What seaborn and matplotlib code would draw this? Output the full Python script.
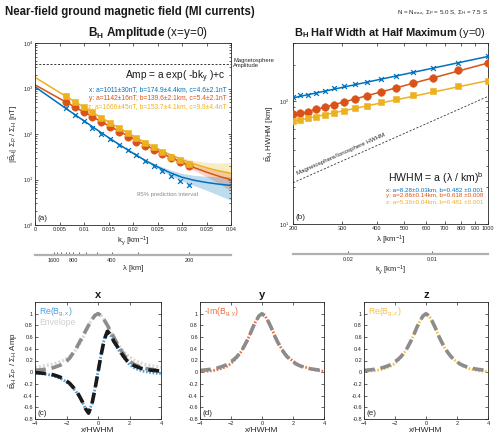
import numpy as np
import matplotlib
matplotlib.use('Agg')
import matplotlib.pyplot as plt
import matplotlib.ticker as mticker
import seaborn as sns

# ---- panel (a): amplitude at x=y=0 vs k_y
k_pts = [0.0063, 0.0081, 0.0099, 0.0117, 0.0135, 0.0153, 0.0171, 0.0189,
         0.0207, 0.0224, 0.0242, 0.0260, 0.0278, 0.0296, 0.0314]
amp_x = [379, 257, 193, 138, 100, 77.6, 58.3, 44.5, 34.0, 25.9, 19.8, 15.6, 12.1, 9.1, 7.4]
amp_y = [505, 392, 305, 232, 180, 140, 111, 87.4, 67.9, 54.5, 43.8, 36.3, 29.7, 24.3, 20.1]
amp_z = [670, 505, 395, 298, 228, 176, 135, 104, 82, 64, 51, 40, 32, 26.5, 22]

k_fit = [0, 0.0025, 0.005, 0.0075, 0.01, 0.0125, 0.015, 0.0175, 0.02,
         0.0225, 0.025, 0.0275, 0.03, 0.0325, 0.035, 0.0375, 0.04]
fit_x = [1090, 706, 457, 297, 194, 127, 83.7, 55.8, 37.9, 26.2, 19.0, 14.2, 11.2, 9.6, 8.6, 7.9, 7.4]
lo_x = [1060, 690, 447, 290, 189, 124, 81.5, 54, 36.5, 25, 17.5, 12.5, 9.3, 7.3, 5.8, 4.5, 3.5]
hi_x = [1120, 722, 467, 304, 199, 130, 86, 57.5, 39.5, 27.6, 20.8, 16.3, 13.6, 12.3, 11.8, 11.6, 11.5]
fit_y = [1205, 852, 602, 427, 302, 215, 153, 110, 79, 57.2, 42, 31.2, 23.6, 18.2, 14.5, 11.8, 9.9]
lo_y = [1180, 835, 590, 419, 296, 211, 150, 107.5, 77, 55.5, 40.5, 29.5, 21.5, 15.8, 11.6, 8.3, 5.6]
hi_y = [1230, 869, 614, 435, 308, 219, 156, 112.5, 81, 59, 43.6, 33, 26, 21, 17.8, 15.6, 14]
fit_z = [1760, 1202, 822, 563, 386, 266, 184.5, 129, 91, 65, 47.5, 35.5, 27.4, 21.9, 18.1, 15.5, 13.7]
lo_z = [1725, 1180, 807, 552, 379, 261, 181, 126.5, 89, 63.5, 46, 33.8, 25.3, 19.5, 15.4, 12.4, 10]
hi_z = [1795, 1225, 837, 574, 393, 271, 188, 131.5, 93, 66.5, 49.2, 37.5, 30, 26, 23.8, 23, 23.5]
mag_amp = 3500
lam_major = [1600, 800, 400, 200]
lam_minor = [1400, 1200, 1000, 900, 700, 600, 500, 300]

# ---- panel (b): half width at half maximum vs wavelength
lam_pts = [200, 212, 226, 242, 260, 280, 304, 333, 368, 412, 467, 538, 636, 778, 1000]
hw_x = [108, 113, 113.7, 118, 122.5, 128, 133, 139, 145, 152.5, 162, 174, 189, 207, 236.5]
hw_y = [78.5, 80, 82.6, 86.3, 89.6, 93.6, 98.4, 104, 110.8, 118.7, 128, 140.6, 156, 180.6, 207]
hw_z = [69.3, 70.6, 72.8, 75.2, 77.6, 80.5, 84.1, 88.4, 92.4, 98.4, 105.4, 113, 121.7, 133, 147.8]
lam_fit = [200, 1000]
hwfit_x = [107, 233]
hwfit_y = [76.5, 206]
hwfit_z = [68.8, 148]
mag_hwhm = [21.7, 110]
ky_major = [0.02, 0.01]

# ---- panels (c)-(e): normalised profiles along x/HWHM
xh = [-4.0, -3.8, -3.6, -3.4, -3.2, -3.0, -2.8, -2.6, -2.4, -2.2, -2.0, -1.8, -1.6, -1.4,
      -1.2, -1.0, -0.8, -0.6, -0.4, -0.2, 0.0, 0.2, 0.4, 0.6, 0.8, 1.0, 1.2, 1.4, 1.6, 1.8,
      2.0, 2.2, 2.4, 2.6, 2.8, 3.0, 3.2, 3.4, 3.6, 3.8, 4.0]
prof_fit_x = [-0.007, -0.01, -0.015, -0.02, -0.027, -0.035, -0.048, -0.065, -0.085, -0.11,
              -0.15, -0.19, -0.25, -0.31, -0.40, -0.50, -0.62, -0.70, -0.56, -0.30, 0.0,
              0.30, 0.56, 0.70, 0.64, 0.53, 0.45, 0.36, 0.28, 0.21, 0.16, 0.125, 0.10,
              0.08, 0.062, 0.05, 0.04, 0.034, 0.028, 0.024, 0.02]
re_x = [-0.02, -0.02, -0.025, -0.03, -0.04, -0.05, -0.065, -0.085, -0.105, -0.13, -0.17,
        -0.21, -0.27, -0.33, -0.41, -0.51, -0.62, -0.69, -0.55, -0.29, 0.01, 0.31, 0.57,
        0.70, 0.63, 0.52, 0.43, 0.34, 0.26, 0.19, 0.13, 0.09, 0.06, 0.04, 0.02, 0.01, 0.0,
        -0.01, -0.015, -0.02, -0.02]
env_data = [0.08, 0.09, 0.10, 0.11, 0.12, 0.13, 0.145, 0.16, 0.18, 0.20, 0.23, 0.27, 0.32,
            0.39, 0.47, 0.56, 0.68, 0.80, 0.90, 0.97, 1.0, 0.97, 0.90, 0.80, 0.69, 0.58,
            0.50, 0.43, 0.36, 0.30, 0.26, 0.22, 0.19, 0.17, 0.15, 0.13, 0.12, 0.11, 0.10,
            0.09, 0.08]
env_fit = [0.033, 0.037, 0.042, 0.048, 0.055, 0.065, 0.08, 0.10, 0.12, 0.15, 0.19, 0.24,
           0.32, 0.40, 0.50, 0.60, 0.70, 0.80, 0.89, 0.97, 1.0, 0.97, 0.89, 0.80, 0.70,
           0.60, 0.50, 0.40, 0.32, 0.24, 0.19, 0.15, 0.12, 0.10, 0.08, 0.065, 0.055, 0.048,
           0.042, 0.037, 0.033]
peak_fit = [0.03, 0.035, 0.04, 0.047, 0.055, 0.065, 0.078, 0.095, 0.115, 0.14, 0.18, 0.22,
            0.27, 0.34, 0.42, 0.52, 0.63, 0.76, 0.87, 0.96, 1.0, 0.96, 0.87, 0.76, 0.63,
            0.52, 0.42, 0.34, 0.27, 0.22, 0.18, 0.14, 0.115, 0.095, 0.078, 0.065, 0.055,
            0.047, 0.04, 0.035, 0.03]
im_y = [0.01, 0.012, 0.015, 0.02, 0.025, 0.035, 0.05, 0.065, 0.085, 0.11, 0.15, 0.2, 0.26,
        0.33, 0.42, 0.52, 0.63, 0.76, 0.87, 0.96, 1.0, 0.96, 0.87, 0.76, 0.64, 0.53, 0.43,
        0.35, 0.28, 0.23, 0.19, 0.15, 0.12, 0.10, 0.085, 0.07, 0.055, 0.04, 0.03, 0.02, 0.015]
re_z = [0.015, 0.017, 0.02, 0.025, 0.03, 0.04, 0.055, 0.07, 0.09, 0.115, 0.15, 0.2, 0.26,
        0.33, 0.42, 0.52, 0.63, 0.76, 0.87, 0.96, 1.0, 0.96, 0.87, 0.76, 0.63, 0.52, 0.42,
        0.34, 0.27, 0.22, 0.17, 0.13, 0.10, 0.08, 0.06, 0.045, 0.035, 0.025, 0.02, 0.015, 0.012]
prof_yticks = [-0.8, -0.6, -0.4, -0.2, 0, 0.2, 0.4, 0.6, 0.8, 1]
prof_ylabels = ['-0.8', '-0.6', '-0.4', '-0.2', '0', '0.2', '0.4', '0.6', '0.8', '1']

BLUE, ORANGE, YELLOW = '#0072BD', '#D95319', '#EDB120'
LBLUE, LORANGE, LYELLOW = '#4A9FDD', '#F26B3A', '#F7C242'
INK = '#262626'

sns.set_theme(style='ticks')
plt.rcParams['font.family'] = ['Liberation Sans', 'DejaVu Sans']
plt.rcParams['mathtext.fontset'] = 'custom'
plt.rcParams['mathtext.rm'] = 'Liberation Sans'
plt.rcParams['mathtext.it'] = 'Liberation Sans:italic'
plt.rcParams['mathtext.bf'] = 'Liberation Sans:bold'
plt.rcParams['mathtext.default'] = 'regular'

W, H = 500, 441
fig = plt.figure(figsize=(W / 100, H / 100), dpi=100)


def px_axes(x0, y0, x1, y1):
    return fig.add_axes([x0 / W, 1 - y1 / H, (x1 - x0) / W, (y1 - y0) / H])


def style(ax):
    for s in ax.spines.values():
        s.set_linewidth(0.6)
        s.set_color(INK)
    ax.tick_params(which='both', direction='in', top=True, right=True, labelsize=4,
                   width=0.5, colors=INK, pad=1.5)
    ax.tick_params(which='major', length=2.5)
    ax.tick_params(which='minor', length=1.5)


def sec_axis(x0, x1, ypx, xlim, scale, ticks, labels, minor, label):
    s = fig.add_axes([x0 / W, 1 - ypx / H, (x1 - x0) / W, 1e-4])
    s.set_xscale(scale)
    s.set_xlim(xlim)
    s.patch.set_alpha(0)
    s.set_yticks([])
    for sp in ['top', 'left', 'right']:
        s.spines[sp].set_visible(False)
    s.spines['bottom'].set_color('#b0b0b0')
    s.spines['bottom'].set_linewidth(1.6)
    s.set_xticks(ticks)
    s.set_xticklabels(labels)
    if minor:
        s.set_xticks(minor, minor=True)
    else:
        s.xaxis.set_minor_locator(mticker.NullLocator())
    s.tick_params(which='both', direction='in', labelsize=4, colors=INK, length=2,
                  width=0.5, pad=2)
    s.set_xlabel(label, fontsize=5.5, labelpad=1.5, color=INK)


# ================= (a)
ax = px_axes(35, 43, 231, 225)
ax.set_yscale('log')
for lo, hi, c in [(lo_x, hi_x, BLUE), (lo_y, hi_y, ORANGE), (lo_z, hi_z, YELLOW)]:
    ax.fill_between(k_fit, lo, hi, color=c, alpha=0.25, lw=0)
for f, c in [(fit_x, BLUE), (fit_y, ORANGE), (fit_z, YELLOW)]:
    sns.lineplot(x=k_fit, y=f, color=c, lw=1.1, ax=ax)
sns.scatterplot(x=k_pts, y=amp_x, marker='x', s=12, color=BLUE, linewidth=0.9, ax=ax, zorder=5)
sns.scatterplot(x=k_pts, y=amp_y, marker='o', s=28, color=ORANGE, edgecolor=ORANGE,
                linewidth=0.4, ax=ax, zorder=5)
sns.scatterplot(x=k_pts, y=amp_z, marker='s', s=22, color=YELLOW, edgecolor=YELLOW,
                linewidth=0.4, ax=ax, zorder=6)
ax.axhline(mag_amp, color='k', lw=0.6, ls=(0, (2.5, 2)))
ax.set_xlim(0, 0.04)
ax.set_ylim(1, 1e4)
ax.set_xticks([0, 0.005, 0.01, 0.015, 0.02, 0.025, 0.03, 0.035, 0.04])
ax.set_xticklabels(['0', '0.005', '0.01', '0.015', '0.02', '0.025', '0.03', '0.035', '0.04'])
style(ax)
ax.set_xlabel('k$_y$ [km$^{-1}$]', fontsize=5.8, labelpad=2, color=INK)
ax.set_ylabel(r'$|\tilde{B}_H|\ \Sigma_P\ /\ \Sigma_H$ [nT]', fontsize=5.8, labelpad=2, color=INK)
ax.text(0.972, 0.815, 'Amp = a exp( -bk$_y$ )+c', transform=ax.transAxes, ha='right',
        va='center', fontsize=7.3, color='k')
for i, (t, c) in enumerate([('x: a=1011±30nT, b=174.9±4.4km, c=4.6±2.1nT', BLUE),
                            ('y: a=1142±16nT, b=139.6±2.1km, c=5.4±2.1nT', ORANGE),
                            ('z: a=1666±45nT, b=153.7±4.1km, c=9.9±4.4nT', YELLOW)]):
    ax.text(0.98, 0.745 - i * 0.048, t, transform=ax.transAxes, ha='right', va='center',
            fontsize=4.8, color=c)
ax.text(0.52, 0.165, '95% prediction interval', transform=ax.transAxes, ha='left',
        va='center', fontsize=4.3, color='#8a8a8a')
ax.text(0.012, 0.03, '(a)', transform=ax.transAxes, fontsize=5.8, color=INK)
fig.text(233 / W, 1 - 63 / H, 'Magnetosphere\nAmplitude', fontsize=4.2, color=INK,
         ha='left', va='center', linespacing=1.1)
sec_axis(35, 231, 255, (0, 0.04), 'linear', [2 * np.pi / l for l in lam_major],
         [str(l) for l in lam_major], [2 * np.pi / l for l in lam_minor], 'λ [km]')

# ================= (b)
bx = px_axes(293, 43, 488, 224)
bx.set_xscale('log')
bx.set_yscale('log')
sns.lineplot(x=lam_fit, y=mag_hwhm, color='#333333', lw=0.6, ls=(0, (2.5, 2)), ax=bx)
for f, c in [(hwfit_x, BLUE), (hwfit_y, ORANGE), (hwfit_z, YELLOW)]:
    sns.lineplot(x=lam_fit, y=f, color=c, lw=1.1, ax=bx)
sns.scatterplot(x=lam_pts, y=hw_x, marker='x', s=12, color=BLUE, linewidth=0.9, ax=bx, zorder=5)
sns.scatterplot(x=lam_pts, y=hw_y, marker='o', s=30, color=ORANGE, edgecolor=ORANGE,
                linewidth=0.4, ax=bx, zorder=5)
sns.scatterplot(x=lam_pts, y=hw_z, marker='s', s=22, color=YELLOW, edgecolor=YELLOW,
                linewidth=0.4, ax=bx, zorder=6)
bx.set_xlim(200, 1000)
bx.set_ylim(10, 300)
bx.set_xticks([200, 300, 400, 500, 600, 700, 800, 900, 1000])
bx.set_xticklabels(['200', '300', '400', '500', '600', '700', '800', '900', '1000'])
bx.xaxis.set_minor_locator(mticker.NullLocator())
style(bx)
bx.tick_params(axis='y', pad=3)
bx.set_xlabel('λ [km$^{-1}$]', fontsize=5.8, labelpad=2, color=INK)
bx.set_ylabel(r'$\tilde{B}_H$ HWHM [km]', fontsize=5.8, labelpad=2, color=INK)
bx.text(296, 37.5, 'Magnetosphere/Ionosphere HWHM', rotation=24, fontsize=4.4, color=INK,
        ha='center', va='center', rotation_mode='anchor')
bx.text(0.975, 0.255, 'HWHM = a (λ / km)$^b$', transform=bx.transAxes, ha='right',
        va='center', fontsize=7.6, color='k')
for i, (t, c) in enumerate([('x: a=8.28±0.03km, b=0.482 ±0.001', BLUE),
                            ('y: a=2.86±0.14km, b=0.618 ±0.008', ORANGE),
                            ('z: a=5.36±0.04km, b=0.481 ±0.001', YELLOW)]):
    bx.text(0.975, 0.19 - i * 0.035, t, transform=bx.transAxes, ha='right', va='center',
            fontsize=4.5, color=c)
bx.text(0.012, 0.03, '(b)', transform=bx.transAxes, fontsize=5.8, color=INK)
sec_axis(293, 488, 254, (200, 1000), 'log', [2 * np.pi / k for k in ky_major],
         [str(k) for k in ky_major], None, 'k$_y$ [km$^{-1}$]')

# ================= (c)-(e)
panels = [(35, 161, 'x', 'c'), (200, 324, 'y', 'd'), (364, 488, 'z', 'e')]
axs = [px_axes(x0, 302, x1, 419) for x0, x1, _, _ in panels]
cx, dx, ex = axs

sns.lineplot(x=xh, y=env_data, color='#d9d9d9', lw=2.4, ls=(0, (0.6, 0.6)), ax=cx)
sns.lineplot(x=xh, y=re_x, color=LBLUE, lw=2.0, ls=(0, (0.6, 0.6)), ax=cx)
sns.lineplot(x=xh, y=env_fit, color='#8c8c8c', lw=2.6, ls=(0, (3, 1.6)), ax=cx)
sns.lineplot(x=xh, y=prof_fit_x, color='k', lw=2.6, ls=(0, (3, 1.6)), ax=cx)
cx.text(0.03, 0.965, 'Re(B$_{g,x}$)', transform=cx.transAxes, va='top', fontsize=6.2, color=LBLUE)
cx.text(0.03, 0.86, 'Envelope', transform=cx.transAxes, va='top', fontsize=6.2, color='#d0d0d0')

sns.lineplot(x=xh, y=im_y, color=LORANGE, lw=2.0, ls=(0, (0.6, 0.6)), ax=dx)
sns.lineplot(x=xh, y=peak_fit, color='#8c8c8c', lw=2.6, ls=(0, (3, 1.6)), ax=dx)
dx.text(0.03, 0.965, '-Im(B$_{g,y}$)', transform=dx.transAxes, va='top', fontsize=6.2, color=LORANGE)

sns.lineplot(x=xh, y=re_z, color=LYELLOW, lw=2.0, ls=(0, (0.6, 0.6)), ax=ex)
sns.lineplot(x=xh, y=peak_fit, color='#8c8c8c', lw=2.6, ls=(0, (3, 1.6)), ax=ex)
ex.text(0.03, 0.965, 'Re(B$_{g,z}$)', transform=ex.transAxes, va='top', fontsize=6.2, color=LYELLOW)

for a, (x0, x1, name, tag) in zip(axs, panels):
    a.set_xlim(-4, 4)
    a.set_ylim(-0.8, 1.2)
    a.set_xticks([-4, -2, 0, 2, 4])
    a.set_yticks(prof_yticks)
    a.set_yticklabels(prof_ylabels)
    style(a)
    a.set_xlabel('x/HWHM', fontsize=6, labelpad=1, color=INK)
    a.set_title(name, fontsize=8, fontweight='bold', pad=3, color='k')
    a.text(0.02, 0.03, f'({tag})', transform=a.transAxes, fontsize=5.8, color=INK)
cx.set_ylabel(r'$\tilde{B}_H\ \Sigma_P\ /\ \Sigma_H$ Amp', fontsize=5.8, labelpad=2, color=INK)

# ================= headers
fig.text(5 / W, 1 - 12 / H, 'Near-field ground magnetic field (MI currents)', fontsize=8.3,
         fontweight='bold', va='center', ha='left', color='k')
fig.text(488 / W, 1 - 13 / H, r'N = N$_{max}$, $\Sigma_P$ = 5.0 S, $\Sigma_H$ = 7.5 S',
         fontsize=4.5, va='center', ha='right', color=INK)
fig.text(148 / W, 1 - 33 / H, r'$\mathbf{B_H\ Amplitude}$ (x=y=0)', fontsize=8.5,
         ha='center', va='center', color='k')
fig.text(390 / W, 1 - 33 / H, r'$\mathbf{B_H\ Half\ Width\ at\ Half\ Maximum}$ (y=0)',
         fontsize=7.9, ha='center', va='center', color='k')

fig.savefig('out.png', dpi=100)
